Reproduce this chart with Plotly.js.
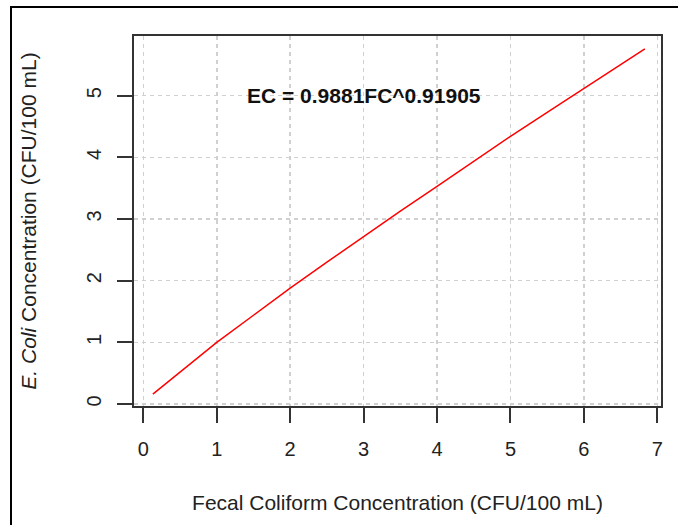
<!DOCTYPE html>
<html>
<head>
<meta charset="utf-8">
<script src="https://cdn.plot.ly/plotly-3.0.1.min.js"></script>
<style>
  html, body { margin: 0; padding: 0; background: #fff; width: 678px; height: 525px; overflow: hidden; }
  #frame { position: absolute; left: 10px; top: 6px; width: 800px; height: 700px; border: 2px solid #000; box-sizing: border-box; pointer-events: none; z-index: 5; }
  #chart { position: absolute; left: 0; top: 0; width: 678px; height: 525px; }
</style>
</head>
<body>
<div id="chart"></div>
<div id="frame"></div>
<script>
// Values
const fcValues = [0.13, 0.5, 1.0, 1.5, 2.0, 2.5, 3.0, 3.5, 4.0, 4.5, 5.0, 5.5, 6.0, 6.5, 6.83];
const ecValues = [0.16, 0.52, 1.0, 1.44, 1.88, 2.30, 2.72, 3.13, 3.53, 3.94, 4.34, 4.73, 5.12, 5.50, 5.76];
const xTicks = [0, 1, 2, 3, 4, 5, 6, 7];
const yTicks = [0, 1, 2, 3, 4, 5];
const equationText = "EC = 0.9881FC^0.91905";
const equationPos = {x: 3, y: 5};
const xTitle = "Fecal Coliform Concentration (CFU/100 mL)";
const yTitle = "<i>E. Coli</i> Concentration (CFU/100 mL)";

const font = "Liberation Sans, Arial, sans-serif";
const axisCommon = {
  showline: true, mirror: true, linecolor: '#333', linewidth: 2,
  ticks: 'outside', ticklen: 15, tickwidth: 2, tickcolor: '#333',
  showgrid: true, gridcolor: '#d0d0d0', gridwidth: 1.5, griddash: '4px,4px',
  zeroline: false, tickmode: 'array',
  tickfont: {family: font, size: 20, color: '#222'},
  fixedrange: true
};

const trace = {
  x: fcValues, y: ecValues, type: 'scatter', mode: 'lines',
  line: {color: '#ff0000', width: 1.5}, hoverinfo: 'skip', showlegend: false
};

const layout = {
  width: 678, height: 525,
  margin: {l: 134, r: 17, t: 36, b: 119},
  paper_bgcolor: '#fff', plot_bgcolor: '#fff',
  xaxis: Object.assign({}, axisCommon, {
    range: [-0.127, 7.05], tickvals: xTicks, ticktext: xTicks.map(String),
    ticklabelstandoff: 9,
    title: {text: xTitle, font: {family: font, size: 21, color: '#222'}, standoff: 36}
  }),
  yaxis: Object.assign({}, axisCommon, {
    range: [-0.032, 5.968], tickvals: yTicks, ticktext: yTicks.map(String),
    tickangle: -90, ticklabelstandoff: 8,
    title: {text: yTitle, font: {family: font, size: 21, color: '#222'}, standoff: 41}
  }),
  annotations: [{
    x: equationPos.x, y: equationPos.y, xref: 'x', yref: 'y',
    text: '<b>' + equationText + '</b>', showarrow: false,
    font: {family: font, size: 21, color: '#111'},
    xanchor: 'center', yanchor: 'middle'
  }]
};

Plotly.newPlot('chart', [trace], layout, {staticPlot: true, displayModeBar: false});
</script>
</body>
</html>
